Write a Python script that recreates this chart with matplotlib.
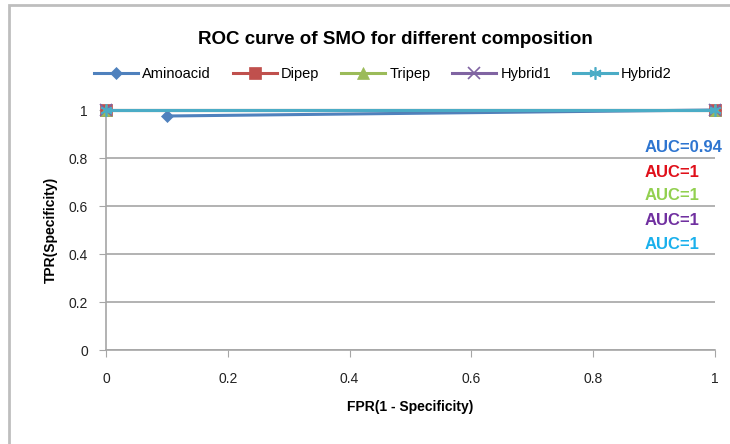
import matplotlib
matplotlib.use("Agg")
import matplotlib.pyplot as plt
from matplotlib.patches import Rectangle

plt.rcParams['font.family'] = ['Liberation Sans', 'DejaVu Sans']

series_names = ["Aminoacid", "Dipep", "Tripep", "Hybrid1", "Hybrid2"]
amino_fpr = [0.1, 1.0]
amino_tpr = [0.975, 1.0]
dipep_fpr = [0.0, 1.0]
dipep_tpr = [1.0, 1.0]
tripep_fpr = [0.0, 1.0]
tripep_tpr = [1.0, 1.0]
hybrid1_fpr = [0.0, 1.0]
hybrid1_tpr = [1.0, 1.0]
hybrid2_fpr = [0.0, 1.0]
hybrid2_tpr = [1.0, 1.0]
auc_labels = ["AUC=0.94", "AUC=1", "AUC=1", "AUC=1", "AUC=1"]
ticks = [0, 0.2, 0.4, 0.6, 0.8, 1]
tick_labels = ["0", "0.2", "0.4", "0.6", "0.8", "1"]

line_colors = ["#4F81BD", "#C0504D", "#9BBB59", "#8064A2", "#4BACC6"]
auc_colors = ["#2E75D0", "#E0101A", "#92D050", "#7030A0", "#1AB0EC"]
markers = ["D", "s", "^", "x", (6, 2, 0)]
msizes = [6, 9, 8, 8, 9]

fig = plt.figure(figsize=(7.30, 4.44), dpi=100)
fig.patches.append(Rectangle((9/730, -0.1), 1.2, 1 - 5/444 + 0.1, transform=fig.transFigure,
                             fill=False, edgecolor="#BEBEBE", linewidth=2.0, zorder=0))
ax = fig.add_axes([106/730, 1 - 350/444, (715 - 106)/730, (350 - 110)/444])

data = [(amino_fpr, amino_tpr), (dipep_fpr, dipep_tpr), (tripep_fpr, tripep_tpr),
        (hybrid1_fpr, hybrid1_tpr), (hybrid2_fpr, hybrid2_tpr)]
for i, (name, (xs, ys)) in enumerate(zip(series_names, data)):
    thin = markers[i] == "x" or isinstance(markers[i], tuple)
    ax.plot(xs, ys, color=line_colors[i], linewidth=2.2, marker=markers[i],
            markersize=msizes[i], markeredgewidth=1.2 if thin else 0.5,
            label=name, clip_on=False, zorder=3 + i)

ax.set_xlim(0, 1)
ax.set_ylim(0, 1)
ax.set_xticks(ticks)
ax.set_xticklabels(tick_labels)
ax.set_yticks(ticks)
ax.set_yticklabels(tick_labels)
ax.grid(axis='y', color="#A6A6A6", linewidth=1.2)
ax.set_axisbelow(True)
for s in ["top", "right"]:
    ax.spines[s].set_visible(False)
for s in ["left", "bottom"]:
    ax.spines[s].set_color("#A6A6A6")
    ax.spines[s].set_linewidth(1.2)
ax.tick_params(axis='x', direction='out', length=5, color="#A6A6A6", pad=11,
               labelsize=10, labelcolor="#222222")
ax.tick_params(axis='y', direction='out', length=5, color="#A6A6A6", pad=8,
               labelsize=10, labelcolor="#222222")

ax.set_xlabel("FPR(1 - Specificity)", fontsize=10, fontweight="bold", labelpad=10)
ax.set_ylabel("TPR(Specificity)", fontsize=10, fontweight="bold", labelpad=8)

fig.text(395/730, 1 - 40/444, "ROC curve of SMO for different composition",
         ha="center", va="center", fontsize=13.5, fontweight="bold")

leg = fig.legend(loc="center", bbox_to_anchor=(383/730, 1 - 74/444), ncol=5, frameon=False,
                 fontsize=10.5, handlelength=3.0, columnspacing=1.5, handletextpad=0.3)

for i, lab in enumerate(auc_labels):
    ax.text(645/730, 1 - (148 + 24 * i)/444, lab, transform=fig.transFigure,
            color=auc_colors[i], fontsize=12, fontweight="bold", ha="left", va="center")

fig.savefig("out.png", dpi=100)
